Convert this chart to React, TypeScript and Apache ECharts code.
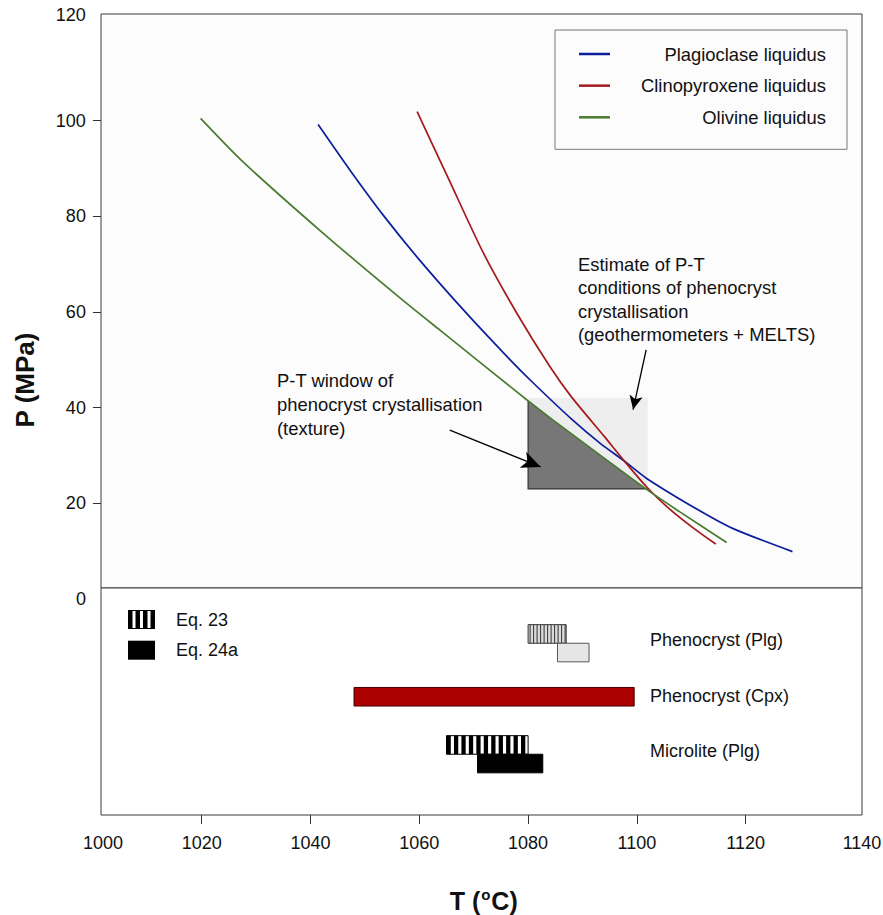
import React, { useEffect, useRef } from 'react';
import * as echarts from 'echarts';

const FONT = '"Liberation Sans", Arial, Helvetica, sans-serif';

// ---- upper panel: liquidus curves [T (°C), P (MPa)] ----
const plagioclaseLiquidus: number[][] = [
  [1041.4, 99.2], [1047.3, 89.6], [1053.4, 80.2], [1060.1, 70.8], [1068.7, 59.7],
  [1076.7, 50.0], [1081.0, 45.1], [1088.0, 37.6], [1093.2, 32.6], [1097.5, 29.0],
  [1101.8, 25.2], [1111.0, 18.8], [1117.7, 14.7], [1128.6, 9.9],
];
const clinopyroxeneLiquidus: number[][] = [
  [1059.6, 101.9], [1065.6, 87.3], [1071.8, 72.3], [1077.9, 59.8], [1084.0, 48.6],
  [1088.0, 42.2], [1094.0, 34.0], [1097.5, 29.1], [1101.8, 23.4], [1105.5, 19.3],
  [1110.4, 14.8], [1114.5, 11.5],
];
const olivineLiquidus: number[][] = [
  [1019.8, 100.5], [1027.6, 91.4], [1042.4, 76.4], [1056.5, 62.9], [1063.8, 56.2],
  [1079.8, 41.6], [1084.6, 37.4], [1101.8, 22.9], [1107.9, 18.2], [1116.5, 11.8],
];

// estimate box: [Tmin, Tmax, Pmin, Pmax]
const estimateBox = [1080, 1102, 23, 42];
// arrows: [start, tip]
const estimateArrow = [[1101.7, 52.1], [1099.3, 39.6]];
const windowArrow = [[1065.6, 35.3], [1082.3, 27.6]];

const yLabels = [0, 20, 40, 60, 80, 100, 120];
const yTicks = [20, 40, 60, 80, 100];
const xTicks = [1020, 1040, 1060, 1080, 1100, 1120];

// ---- lower panel: temperature ranges ----
const rangeRows = ['Phenocryst (Plg)', 'Phenocryst (Cpx)', 'Microlite (Plg)'];
const eq23Ranges = [
  [1080.0, 1087.0, 'Phenocryst (Plg)'],
  [1065.0, 1080.0, 'Microlite (Plg)'],
];
const eq24aRanges = [
  [1085.4, 1091.2, 'Phenocryst (Plg)'],
  [1070.7, 1082.7, 'Microlite (Plg)'],
];
const cpxRange = [[1048.0, 1099.5, 'Phenocryst (Cpx)']];

const BAR_FRAC = 0.335;

function olivineAt(t: number): number {
  const d = olivineLiquidus;
  for (let i = 0; i < d.length - 1; i++) {
    if (t >= d[i][0] && t <= d[i + 1][0]) {
      const f = (t - d[i][0]) / (d[i + 1][0] - d[i][0]);
      return d[i][1] + f * (d[i + 1][1] - d[i][1]);
    }
  }
  return t < d[0][0] ? d[0][1] : d[d.length - 1][1];
}

function rangeRect(api: any, place: 'top' | 'bottom' | 'center') {
  const a = api.coord([api.value(0), api.value(2)]);
  const b = api.coord([api.value(1), api.value(2)]);
  const band = api.size([0, 1])[1];
  const h = band * BAR_FRAC;
  const y = place === 'top' ? a[1] - h : place === 'bottom' ? a[1] : a[1] - h / 2 - 2;
  return { x: a[0], y, width: b[0] - a[0], height: h };
}

function stripes(r: any, fine: boolean) {
  const children: any[] = [];
  if (fine) {
    children.push({ type: 'rect', shape: { ...r }, style: { fill: '#dadada' } });
    for (let sx = r.x + 2; sx < r.x + r.width - 1; sx += 3.5) {
      children.push({ type: 'line', shape: { x1: sx, y1: r.y, x2: sx, y2: r.y + r.height }, style: { stroke: '#333', lineWidth: 1 } });
    }
  } else {
    children.push({ type: 'rect', shape: { ...r }, style: { fill: '#fff' } });
    for (let sx = r.x; sx < r.x + r.width; sx += 7.45) {
      children.push({ type: 'rect', shape: { x: sx, y: r.y, width: Math.min(4.3, r.x + r.width - sx), height: r.height }, style: { fill: '#000' } });
    }
  }
  children.push({ type: 'rect', shape: { ...r }, style: { fill: 'none', stroke: fine ? '#333' : '#000', lineWidth: 1 } });
  return { type: 'group', children };
}

const stripeSvg =
  "<svg xmlns='http://www.w3.org/2000/svg' width='27' height='19'>" +
  "<rect width='27' height='19' fill='white'/>" +
  "<rect x='0' y='0' width='4.5' height='19' fill='black'/>" +
  "<rect x='7.5' y='0' width='4.5' height='19' fill='black'/>" +
  "<rect x='15' y='0' width='4.5' height='19' fill='black'/>" +
  "<rect x='22.5' y='0' width='4.5' height='19' fill='black'/>" +
  "<rect x='0.5' y='0.5' width='26' height='18' fill='none' stroke='black'/>" +
  '</svg>';
const stripeIcon = 'image://data:image/svg+xml;charset=utf-8,' + encodeURIComponent(stripeSvg);

const TXT = '#111';

function lineSeries(name: string, data: number[][], color: string) {
  return {
    type: 'line', name, xAxisIndex: 0, yAxisIndex: 0, z: 3,
    data, showSymbol: false, smooth: 0.25,
    itemStyle: { color }, lineStyle: { color, width: 1.7 },
  };
}

function buildOption(): any {
  return {
    animation: false,
    backgroundColor: '#ffffff',
    textStyle: { fontFamily: FONT },
    grid: [
      { left: 92.9, top: 25.05, width: 761.6, height: 573.9, show: false, containLabel: false, outerBoundsMode: 'none' },
      { left: 92.9, top: 615.5, width: 761.6, height: 166.5, show: false, containLabel: false, outerBoundsMode: 'none' },
      { left: 101, top: 14, width: 761, height: 574, show: true, backgroundColor: '#fcfcfc', borderColor: '#3a3a3a', borderWidth: 1, containLabel: false, outerBoundsMode: 'none', z: 0 },
      { left: 101, top: 588, width: 761, height: 227, show: true, backgroundColor: '#ffffff', borderColor: '#3a3a3a', borderWidth: 1, containLabel: false, outerBoundsMode: 'none', z: 0 },
    ],
    xAxis: [
      { gridIndex: 0, type: 'value', min: 1000, max: 1140, interval: 20, show: false },
      {
        gridIndex: 1, type: 'value', min: 1000, max: 1140, interval: 20, offset: 33,
        axisLine: { show: false },
        axisTick: { show: true, length: 9, lineStyle: { color: '#333', width: 1 }, customValues: xTicks },
        splitLine: { show: false },
        axisLabel: {
          margin: 19, fontSize: 18, color: TXT, fontFamily: FONT,
          formatter: (v: number) => (v === 1000 ? '{l|1000}' : v === 1140 ? '{r|1140}' : String(v)),
          rich: {
            l: { fontSize: 18, fontFamily: FONT, color: TXT, padding: [0, 0, 0, 20] },
            r: { fontSize: 18, fontFamily: FONT, color: TXT, padding: [0, 0, 0, 15] },
          },
        },
        name: '{b|T (}{s|o}{b|C)}',
        nameLocation: 'middle',
        nameGap: 71,
        nameTextStyle: {
          padding: [0, 0, 0, 20],
          rich: {
            b: { fontSize: 25, fontWeight: 'bold', fontFamily: FONT, color: TXT, lineHeight: 30 },
            s: { fontSize: 15, fontWeight: 'bold', fontFamily: FONT, color: TXT, lineHeight: 30, padding: [0, 1, 14, 1] },
          },
        },
      },
      { gridIndex: 2, type: 'value', show: false },
      { gridIndex: 3, type: 'value', show: false },
    ],
    yAxis: [
      {
        gridIndex: 0, type: 'value', min: 0, max: 120, interval: 20,
        axisLine: { show: false },
        axisTick: { show: true, inside: true, length: 8, lineStyle: { color: '#333', width: 1 }, customValues: yTicks },
        splitLine: { show: false },
        axisLabel: {
          margin: 7, fontSize: 18, color: TXT, fontFamily: FONT, customValues: yLabels,
          formatter: (v: number) => (v === 120 ? '{t|120}' : String(v)),
          rich: { t: { fontSize: 18, fontFamily: FONT, color: TXT, padding: [0, 0, 20, 0] } },
        },
        name: 'P (MPa)',
        nameLocation: 'middle',
        nameGap: 53,
        nameTextStyle: { fontSize: 26, fontWeight: 'bold', fontFamily: FONT, color: TXT, lineHeight: 30, padding: [0, 136, 0, 0] },
      },
      {
        gridIndex: 1, type: 'category', data: rangeRows, inverse: true,
        offset: -553,
        axisLine: { show: false }, axisTick: { show: false }, splitLine: { show: false },
        axisLabel: { inside: true, margin: 4, fontSize: 18, color: TXT, fontFamily: FONT, verticalAlign: 'bottom', lineHeight: 6 },
      },
      { gridIndex: 2, type: 'value', show: false },
      { gridIndex: 3, type: 'value', show: false },
    ],
    legend: [
      {
        left: 555, top: 30, orient: 'vertical',
        padding: [14, 21, 22, 24],
        borderColor: '#777', borderWidth: 1,
        itemWidth: 31, itemHeight: 2.5, itemGap: 11.65, icon: 'rect',
        selectedMode: false,
        data: ['Plagioclase liquidus', 'Clinopyroxene liquidus', 'Olivine liquidus'],
        formatter: '{a|{name}}',
        textStyle: {
          rich: { a: { width: 211, align: 'right', height: 20, lineHeight: 20, fontSize: 18.4, fontFamily: FONT, color: TXT } },
        },
      },
      {
        left: 123, top: 605, orient: 'vertical', padding: 5,
        itemWidth: 27, itemHeight: 19, itemGap: 11.7,
        selectedMode: false,
        data: [{ name: 'Eq. 23', icon: stripeIcon }, { name: 'Eq. 24a', icon: 'rect' }],
        textStyle: { fontSize: 18, fontFamily: FONT, color: TXT, padding: [0, 0, 0, 16] },
      },
    ],
    graphic: [
      {
        type: 'text', left: 578, top: 253, z: 10,
        style: { text: 'Estimate of P-T\nconditions of phenocryst\ncrystallisation\n(geothermometers + MELTS)', fontSize: 18.4, fontFamily: FONT, lineHeight: 23.3, fill: TXT },
      },
      {
        type: 'text', left: 277, top: 369, z: 10,
        style: { text: 'P-T window of\nphenocryst crystallisation\n(texture)', fontSize: 18.4, fontFamily: FONT, lineHeight: 23.6, fill: TXT },
      },
    ],
    series: [
      {
        type: 'custom', name: 'P-T estimate', xAxisIndex: 0, yAxisIndex: 0, z: 1,
        data: [estimateBox],
        encode: { x: [0, 1], y: [2, 3] },
        renderItem: (params: any, api: any) => {
          const t0 = api.value(0), t1 = api.value(1), p0 = api.value(2), p1 = api.value(3);
          const tl = api.coord([t0, p1]);
          const br = api.coord([t1, p0]);
          const poly: number[][] = [api.coord([t0, p0]), api.coord([t0, Math.max(p0, olivineAt(t0))])];
          olivineLiquidus.forEach((d) => {
            if (d[0] > t0 && d[0] < t1) poly.push(api.coord([d[0], Math.max(p0, d[1])]));
          });
          poly.push(api.coord([t1, Math.max(p0, olivineAt(t1))]));
          const edge = [api.coord([t0, olivineAt(t0)]), api.coord([t0, p0]), api.coord([t1, p0])];
          return {
            type: 'group',
            children: [
              { type: 'rect', shape: { x: tl[0], y: tl[1], width: br[0] - tl[0], height: br[1] - tl[1] }, style: { fill: '#eeeeee' } },
              { type: 'polygon', shape: { points: poly }, style: { fill: '#777777' } },
              { type: 'polyline', shape: { points: edge }, style: { stroke: '#333', lineWidth: 1.2, fill: 'none' } },
            ],
          };
        },
        markLine: {
          silent: true,
          symbol: ['none', 'arrow'],
          label: { show: false },
          lineStyle: { color: '#000', width: 1.3, type: 'solid' },
          emphasis: { disabled: true },
          data: [
            [{ coord: estimateArrow[0] }, { coord: estimateArrow[1], symbolSize: [10, 14] }],
            [{ coord: windowArrow[0] }, { coord: windowArrow[1], symbolSize: [13, 19] }],
          ],
        },
      },
      lineSeries('Plagioclase liquidus', plagioclaseLiquidus, '#0c1e9c'),
      lineSeries('Clinopyroxene liquidus', clinopyroxeneLiquidus, '#a3191e'),
      lineSeries('Olivine liquidus', olivineLiquidus, '#4a7c2f'),
      {
        type: 'custom', name: 'Eq. 23', xAxisIndex: 1, yAxisIndex: 1, z: 2,
        itemStyle: { color: '#000' },
        data: eq23Ranges,
        encode: { x: [0, 1], y: 2 },
        renderItem: (params: any, api: any) => {
          const r = rangeRect(api, 'top');
          const row = rangeRows[api.value(2)];
          return stripes(r, row === 'Phenocryst (Plg)');
        },
      },
      {
        type: 'custom', name: 'Eq. 24a', xAxisIndex: 1, yAxisIndex: 1, z: 2,
        itemStyle: { color: '#000' },
        data: eq24aRanges,
        encode: { x: [0, 1], y: 2 },
        renderItem: (params: any, api: any) => {
          const r = rangeRect(api, 'bottom');
          const row = rangeRows[api.value(2)];
          const light = row === 'Phenocryst (Plg)';
          return { type: 'rect', shape: r, style: { fill: light ? '#e6e6e6' : '#000', stroke: light ? '#555' : '#000', lineWidth: 1 } };
        },
      },
      {
        type: 'custom', name: 'Cpx range', xAxisIndex: 1, yAxisIndex: 1, z: 2,
        itemStyle: { color: '#aa0000' },
        data: cpxRange,
        encode: { x: [0, 1], y: 2 },
        renderItem: (params: any, api: any) => {
          const r = rangeRect(api, 'center');
          return { type: 'rect', shape: r, style: { fill: '#aa0000', stroke: '#4a0000', lineWidth: 1 } };
        },
      },
    ],
  };
}

export default function App() {
  const ref = useRef<HTMLDivElement>(null);
  useEffect(() => {
    if (!ref.current) return;
    const chart = echarts.init(ref.current, null, { renderer: 'svg' });
    chart.setOption(buildOption());
    return () => chart.dispose();
  }, []);
  return (
    <div
      ref={ref}
      style={{ position: 'absolute', left: 0, top: 0, width: 883, height: 915, background: '#fff' }}
    />
  );
}
